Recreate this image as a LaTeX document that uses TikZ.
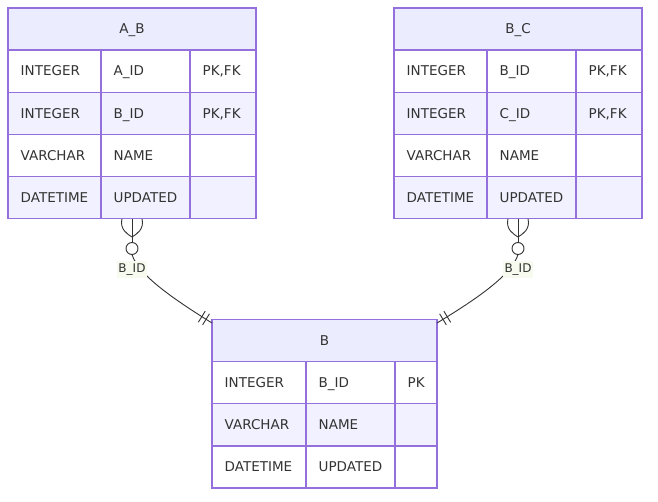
\documentclass[tikz,border=0pt]{standalone}
\usepackage{fontspec}
\setmainfont{DejaVu Sans}
\usetikzlibrary{calc}
\definecolor{erborder}{HTML}{9370DB}
\definecolor{erhead}{HTML}{ECECFF}
\definecolor{eralt}{HTML}{F1F1FF}
\definecolor{ertext}{HTML}{333333}
\definecolor{erlbl}{HTML}{F7FAEE}
\tikzset{
  celltext/.style={text=ertext, font=\fontsize{13.5}{16}\selectfont, anchor=west,
    inner sep=0pt, text height=9.8pt, text depth=0pt},
  tablebox/.style={draw=erborder, line width=1.3pt, inner sep=0pt, outer sep=0pt, anchor=north west},
  erline/.style={draw=erborder, line width=1.3pt},
  rel/.style={draw=ertext, line width=0.9pt},
  zeronode/.style={circle, draw=ertext, line width=0.9pt, fill=white, minimum size=12pt, inner sep=0pt, outer sep=0pt},
  lbl/.style={fill=erlbl, text=ertext, font=\fontsize{12}{14}\selectfont, inner xsep=1.5pt,
    inner ysep=2.5pt, text height=8.8pt, text depth=2.6pt}
}
\newcommand\ertable[9]{%
  \path[fill=erhead] (#2,#6) rectangle (#5,#6+42);
  \foreach \ty/\nm/\ky [count=\i] in {#8} {%
    \pgfmathsetmacro\ya{#6+42+(\i-1)*42.2}%
    \pgfmathsetmacro\ym{\ya+21.1}%
    \ifodd\i\relax\def\rowfill{white}\else\def\rowfill{eralt}\fi
    \path[fill=\rowfill] (#2,\ya) rectangle (#5,\ya+42.2);
    \node[celltext] (#1-\i-a) at (#2+12.5,\ym) {\ty};
    \node[celltext] (#1-\i-b) at (#3+12.5,\ym) {\nm};
    \node[celltext] (#1-\i-c) at (#4+12.5,\ym) {\ky};
  }
  \node[celltext, anchor=center] (#1-title) at ({(#2+#5)/2},#6+21) {#7};
  \node[tablebox, minimum width={(#5-#2)*1pt}, minimum height={(42+#9*42.2)*1pt}] (#1) at (#2,#6) {};
  \draw[erline] (#2,#6+42) -- (#5,#6+42);
  \pgfmathtruncatemacro\erlast{#9-1}%
  \foreach \j in {1,...,\erlast} {\draw[erline] (#2,#6+42+\j*42.2) -- (#5,#6+42+\j*42.2);}
  \draw[erline] (#3,#6+42) -- (#3,#6+42+#9*42.2);
  \draw[erline] (#4,#6+42) -- (#4,#6+42+#9*42.2);
}
\begin{document}
\begin{tikzpicture}[x=1pt,y=-1pt]
\useasboundingbox (0,0) rectangle (658,502);
\fill[white] (0,0) rectangle (658,502);

\ertable{ab}{8}{101}{190}{256}{8}{A\_B}{INTEGER/A\_ID/{PK,FK},INTEGER/B\_ID/{PK,FK},VARCHAR/NAME/{},DATETIME/UPDATED/{}}{4}
\ertable{bc}{394}{487}{576}{642}{8}{B\_C}{INTEGER/B\_ID/{PK,FK},INTEGER/C\_ID/{PK,FK},VARCHAR/NAME/{},DATETIME/UPDATED/{}}{4}
\ertable{b}{212}{306}{395}{437}{319.5}{B}{INTEGER/B\_ID/PK,VARCHAR/NAME/{},DATETIME/UPDATED/{}}{3}

% left relationship A_B }o--|| B
\coordinate (l-end) at ($(b.north west)+(0,3.5)$);
\node[zeronode] (l-zero) at (132,248.5) {};
\draw[rel] (ab.south) -- (l-zero.north);
\draw[rel] (l-zero.south) .. controls (138,275) and (175,300) .. (l-end);
\draw[rel] (122,218.8) .. controls (119.5,229) and (127,234) .. (132,237);
\draw[rel] (142,218.8) .. controls (144.5,229) and (137,234) .. (132,237);
\coordinate (l-t1) at ($(l-end)!7pt!(175,300)$);
\coordinate (l-t2) at ($(l-end)!12pt!(175,300)$);
\draw[rel] ($(l-t1)!6.5pt!90:(l-end)$) -- ($(l-t1)!6.5pt!-90:(l-end)$);
\draw[rel] ($(l-t2)!6.5pt!90:(l-end)$) -- ($(l-t2)!6.5pt!-90:(l-end)$);
\node[lbl] (l-lbl) at (132,269.5) {B\_ID};

% right relationship B_C }o--|| B
\coordinate (r-end) at ($(b.north east)+(0,3.5)$);
\node[zeronode] (r-zero) at (518,248.5) {};
\draw[rel] (bc.south) -- (r-zero.north);
\draw[rel] (r-zero.south) .. controls (512,275) and (475,300) .. (r-end);
\draw[rel] (508,218.8) .. controls (505.5,229) and (513,234) .. (518,237);
\draw[rel] (528,218.8) .. controls (530.5,229) and (523,234) .. (518,237);
\coordinate (r-t1) at ($(r-end)!7pt!(475,300)$);
\coordinate (r-t2) at ($(r-end)!12pt!(475,300)$);
\draw[rel] ($(r-t1)!6.5pt!90:(r-end)$) -- ($(r-t1)!6.5pt!-90:(r-end)$);
\draw[rel] ($(r-t2)!6.5pt!90:(r-end)$) -- ($(r-t2)!6.5pt!-90:(r-end)$);
\node[lbl] (r-lbl) at (518,269.5) {B\_ID};
\end{tikzpicture}
\end{document}
